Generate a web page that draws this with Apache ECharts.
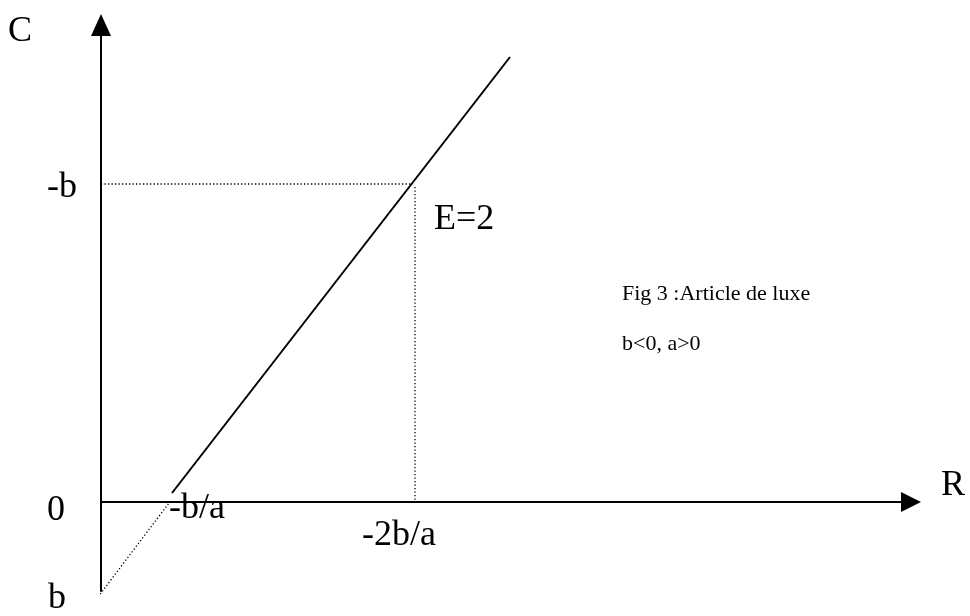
<!DOCTYPE html>
<html>
<head>
<meta charset="utf-8">
<script src="https://cdn.jsdelivr.net/npm/echarts@6/dist/echarts.min.js"></script>
<style>
html,body{margin:0;padding:0;background:#fff;}
#chart{width:970px;height:616px;}
</style>
</head>
<body>
<div id="chart"></div>
<script>
// Data (R horizontal, C vertical, arbitrary units)
const demandLineR = [71, 409];
const demandLineC = [9, 445];
const extensionR = [-3, 68];
const extensionC = [-95, -1];
const guideHorizR = [0, 311];
const guideHorizC = [318, 318];
const guideVertR = [314, 314];
const guideVertC = [315, 0];
const axisRangeR = [0, 810];
const axisRangeC = [-89, 477];

function pts(xs, ys) { return xs.map((x, i) => [x, ys[i]]); }

const serif = 'Liberation Serif, Times New Roman, serif';
const chart = echarts.init(document.getElementById('chart'));
function txt(t, x, y, size) {
  return { type: 'text', left: x, top: y, style: { text: t, font: size + 'px ' + serif, fill: '#000' } };
}
chart.setOption({
  animation: false,
  backgroundColor: '#fff',
  grid: { left: 101, right: 59, top: 25, bottom: 25 },
  xAxis: {
    type: 'value', min: axisRangeR[0], max: axisRangeR[1],
    axisLine: { show: true, onZero: true, lineStyle: { color: '#000', width: 2 }, symbol: ['none', 'triangle'], symbolSize: [20, 20] },
    axisTick: { show: false }, axisLabel: { show: false }, splitLine: { show: false }
  },
  yAxis: {
    type: 'value', min: axisRangeC[0], max: axisRangeC[1],
    axisLine: { show: true, onZero: false, lineStyle: { color: '#000', width: 2 }, symbol: ['none', 'triangle'], symbolSize: [20, 22] },
    axisTick: { show: false }, axisLabel: { show: false }, splitLine: { show: false }
  },
  series: [
    { type: 'line', data: pts(demandLineR, demandLineC), symbol: 'none', clip: false,
      lineStyle: { color: '#000', width: 2 } },
    { type: 'line', data: pts(extensionR, extensionC), symbol: 'none', clip: false,
      lineStyle: { color: '#000', width: 1.3, type: [1.3, 2.2] } },
    { type: 'line', data: pts(guideHorizR, guideHorizC), symbol: 'none', clip: false,
      lineStyle: { color: '#000', width: 1.3, type: [1.3, 2.2] } },
    { type: 'line', data: pts(guideVertR, guideVertC), symbol: 'none', clip: false,
      lineStyle: { color: '#000', width: 1.3, type: [1.3, 2.2] } }
  ],
  graphic: [
    txt('C', 8, 14, 36),
    txt('-b', 47, 170, 36),
    txt('0', 47, 493, 36),
    txt('b', 48, 581, 36),
    txt('-b/a', 169, 491, 36),
    txt('-2b/a', 362, 518, 36),
    txt('E=2', 434, 202, 36),
    txt('R', 941, 468, 36),
    txt('Fig 3 :Article de luxe', 622, 283, 22),
    txt('b<0, a>0', 622, 333, 22)
  ]
});
</script>
</body>
</html>
